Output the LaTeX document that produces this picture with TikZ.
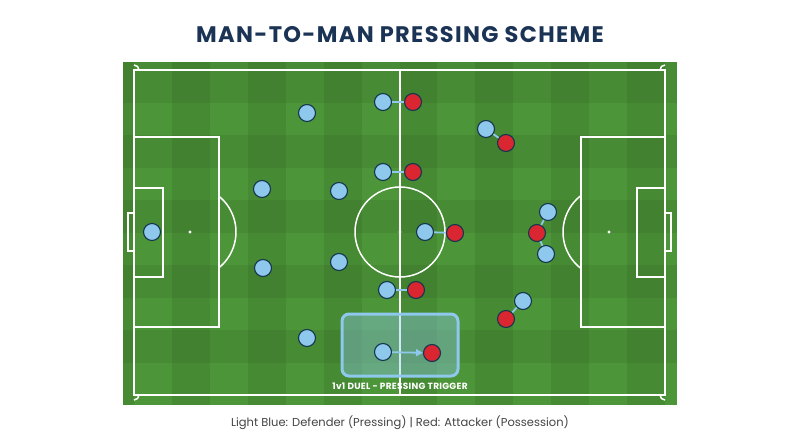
\documentclass[tikz,border=0pt]{standalone}
\usepackage{fontspec}
\setmainfont{Poppins}
\usetikzlibrary{arrows.meta}

\definecolor{navy}{HTML}{1B3354}
\definecolor{grass}{HTML}{4C9538}
\definecolor{defblue}{HTML}{8EC8EC}
\definecolor{attred}{HTML}{D92630}
\definecolor{rim}{HTML}{163650}
\definecolor{capgray}{HTML}{454545}

\begin{document}
\begin{tikzpicture}[x=1pt,y=-1pt,
	pline/.style={white,line width=1.5pt},
	defender/.style={circle,draw=rim,fill=defblue,line width=1.1pt,minimum size=17pt,inner sep=0pt},
	attacker/.style={defender,fill=attred},
	link/.style={defblue,line width=1.8pt},
	]
	
	\useasboundingbox[fill=white] (0,0) rectangle (800,447);
	
	% grass and stripes
	\fill[grass] (123,62) rectangle (677,405);
	\foreach \i in {1,3,...,13}
		\fill[black,opacity=0.07] ({134+\i*37.93},62) rectangle ({134+(\i+1)*37.93},405);
	\fill[black,opacity=0.07] (123,62) rectangle (134,405);
	\foreach \j in {0,2,...,8}
		\fill[black,opacity=0.06] (123,{70+\j*32.5}) rectangle (677,{70+(\j+1)*32.5});
	\fill[black,opacity=0.06] (123,62) rectangle (677,70);
	
	% markings
	\draw[pline] (134,70) rectangle (665,395);
	\draw[pline] (400,70) -- (400,395);
	\draw[pline] (400,232) circle[radius=45];
	\fill[white] (400,232) circle[radius=1.6];
	\draw[pline] (134,137) rectangle (219,327);
	\draw[pline] (134,188) rectangle (163,277);
	\draw[pline] (134,213) rectangle (128,251);
	\fill[white] (190,232) circle[radius=1.6];
	\draw[pline] (190,232) ++(-51:46) arc[start angle=-51,end angle=51,radius=46];
	\draw[pline] (581,137) rectangle (665,327);
	\draw[pline] (637,188) rectangle (665,277);
	\draw[pline] (665,213) rectangle (671,251);
	\fill[white] (609,232) circle[radius=1.6];
	\draw[pline] (609,232) ++(128:46) arc[start angle=128,end angle=232,radius=46];
	\draw[pline] (139,70) arc[start angle=0,end angle=-90,radius=5];
	\draw[pline] (660,70) arc[start angle=180,end angle=270,radius=5];
	\draw[pline] (139,395) arc[start angle=0,end angle=90,radius=5];
	\draw[pline] (660,395) arc[start angle=180,end angle=90,radius=5];
	
	% pressing trigger
	\draw[defblue,line width=3pt,fill=defblue,fill opacity=0.4,rounded corners=7pt] (342,314) rectangle (458,376);
	\node[white,font=\bfseries\fontsize{9}{10}\selectfont\addfontfeatures{LetterSpace=3}] (trig) at (400,386) {1v1 DUEL - PRESSING TRIGGER};
	
	% defenders
	\node[defender] (d1) at (152,232) {};
	\node[defender] (d2) at (307,113) {};
	\node[defender] (d3) at (262,189) {};
	\node[defender] (d4) at (339,191) {};
	\node[defender] (d5) at (263,268) {};
	\node[defender] (d6) at (339,262) {};
	\node[defender] (d7) at (307,338) {};
	\node[defender] (d8) at (383,102) {};
	\node[defender] (d9) at (383,172) {};
	\node[defender] (d10) at (425,232) {};
	\node[defender] (d11) at (387,290) {};
	\node[defender] (d12) at (383,352) {};
	\node[defender] (d13) at (486,129) {};
	\node[defender] (d14) at (548,212) {};
	\node[defender] (d15) at (546,254) {};
	\node[defender] (d16) at (523,301) {};
	
	% attackers
	\node[attacker] (a1) at (413,102) {};
	\node[attacker] (a2) at (413,172) {};
	\node[attacker] (a3) at (455,233) {};
	\node[attacker] (a4) at (416,290) {};
	\node[attacker] (a5) at (432,353) {};
	\node[attacker] (a6) at (506,143) {};
	\node[attacker] (a7) at (537,233) {};
	\node[attacker] (a8) at (506,319) {};
	
	% marking pairs
	\draw[link] (d8) -- (a1);
	\draw[link] (d9) -- (a2);
	\draw[link] (d10) -- (a3);
	\draw[link] (d11) -- (a4);
	\draw[link] (d13) -- (a6);
	\draw[link] (d14) -- (a7);
	\draw[link] (d15) -- (a7);
	\draw[link] (d16) -- (a8);
	\draw[link,-{Triangle[length=7pt,width=7pt]}] (d12) -- (a5);
	
	% titles
	\node[navy,font=\bfseries\fontsize{22.5}{26}\selectfont\addfontfeatures{LetterSpace=6}] (title) at (400,35) {MAN-TO-MAN PRESSING SCHEME};
	\node[capgray,font=\fontsize{11.5}{14}\selectfont] (legend) at (400,423) {Light Blue: Defender (Pressing) | Red: Attacker (Possession)};
	
\end{tikzpicture}
\end{document}
